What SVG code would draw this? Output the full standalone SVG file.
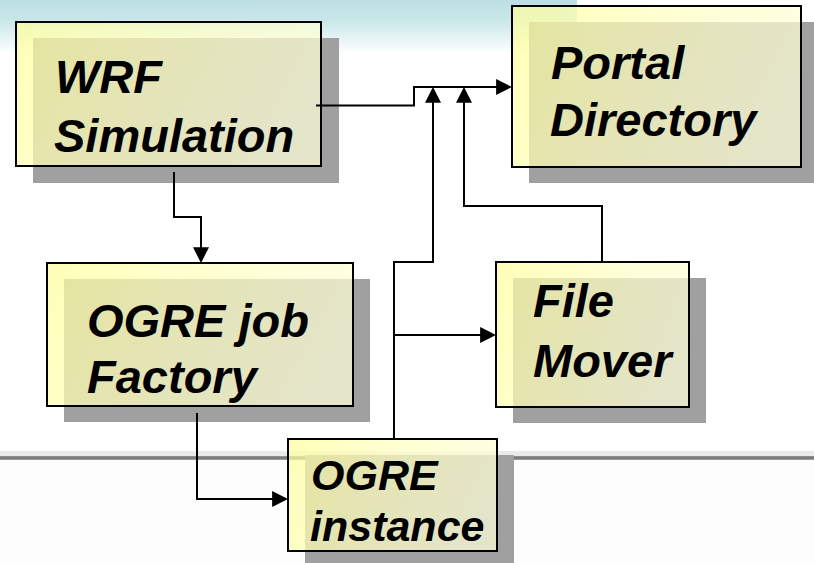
<svg xmlns="http://www.w3.org/2000/svg" width="814" height="563" viewBox="0 0 814 563">
  <defs>
    <linearGradient id="bandTop" x1="0" y1="0" x2="0" y2="1">
      <stop offset="0" stop-color="#bcdfe3"/>
      <stop offset="0.35" stop-color="#c8e6e9"/>
      <stop offset="1" stop-color="#ffffff"/>
    </linearGradient>
    <linearGradient id="rule" x1="0" y1="0" x2="0" y2="1">
      <stop offset="0" stop-color="#9a9a9a"/>
      <stop offset="0.5" stop-color="#6f6f6f"/>
      <stop offset="1" stop-color="#a8a8a8"/>
    </linearGradient>
    <linearGradient id="boxFill" x1="0" y1="0" x2="1" y2="0.25">
      <stop offset="0" stop-color="#ffff9c"/>
      <stop offset="0.5" stop-color="#ffffc0"/>
      <stop offset="1" stop-color="#ffffd8"/>
    </linearGradient>
    <marker id="arrow" markerUnits="userSpaceOnUse" markerWidth="16" markerHeight="16" viewBox="0 0 15 15" refX="13" refY="7.5" orient="auto">
      <path d="M0,0 L15,7.5 L0,15 Z" fill="#000"/>
    </marker>
    <style>
      .shadow { fill: #a0a0a0; }
      .box { fill: url(#boxFill); fill-opacity: 0.72; stroke: #000; stroke-width: 2; }
      .label { font-family: "Liberation Sans", Arial, sans-serif; font-weight: bold; font-style: italic; font-size: 47px; fill: #000; }
      .small { font-size: 43px; }
      .wire { fill: none; stroke: #000; stroke-width: 2; }
      .wire.arrow { marker-end: url(#arrow); }
    </style>
  </defs>

  <!-- backdrop -->
  <rect x="0" y="0" width="814" height="563" fill="#ffffff"/>
  <rect x="0" y="0" width="577" height="54" fill="url(#bandTop)"/>
  <rect x="0" y="451" width="814" height="5" fill="#ebebeb"/>
  <rect x="0" y="456" width="814" height="4" fill="url(#rule)"/>
  <rect x="0" y="460" width="814" height="103" fill="#fdfdfd"/>

  <!-- nodes -->
  <g id="wrf-simulation">
    <rect class="shadow" x="33" y="38" width="306" height="145"/>
    <rect class="box" x="16" y="22" width="305" height="144"/>
    <text class="label" x="55" y="93">WRF</text>
    <text class="label" x="54" y="152">Simulation</text>
  </g>

  <g id="portal-directory">
    <rect class="shadow" x="529" y="22" width="289" height="161"/>
    <rect class="box" x="512" y="6" width="289" height="161"/>
    <text class="label" x="551" y="79">Portal</text>
    <text class="label" x="550" y="136">Directory</text>
  </g>

  <g id="ogre-job-factory">
    <rect class="shadow" x="64" y="279" width="306" height="143"/>
    <rect class="box" x="47" y="263" width="306" height="143"/>
    <text class="label" x="87" y="337">OGRE job</text>
    <text class="label" x="87" y="393">Factory</text>
  </g>

  <g id="file-mover">
    <rect class="shadow" x="513" y="278" width="193" height="145"/>
    <rect class="box" x="496" y="262" width="193" height="145"/>
    <text class="label" x="533" y="317">File</text>
    <text class="label" x="533" y="377">Mover</text>
  </g>

  <g id="ogre-instance">
    <rect class="shadow" x="305" y="455" width="209" height="112"/>
    <rect class="box" x="288" y="439" width="209" height="112"/>
    <text class="label small" x="311" y="490">OGRE</text>
    <text class="label small" x="310" y="541">instance</text>
  </g>

  <!-- connectors -->
  <g id="connectors">
    <path class="wire arrow" d="M316,105.5 H414 V87 H510"/>
    <path class="wire arrow" d="M174,172 V217 H201 V261"/>
    <path class="wire arrow" d="M197,413 V499 H286"/>
    <path class="wire arrow" d="M394,439 V262 H433 V89"/>
    <path class="wire arrow" d="M602,262 V206 H464 V89"/>
    <path class="wire arrow" d="M394,335 H494"/>
  </g>
</svg>
